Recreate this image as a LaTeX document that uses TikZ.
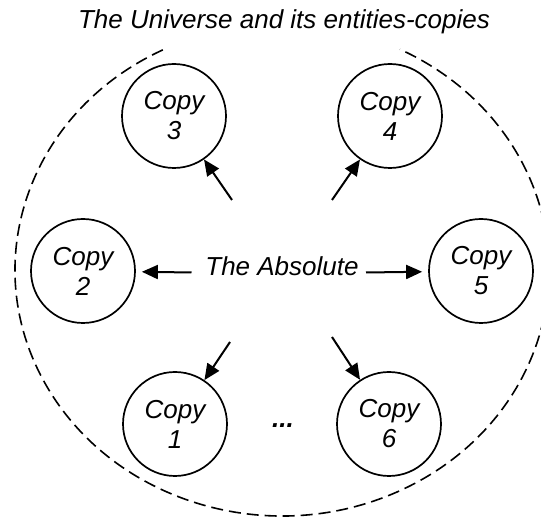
\documentclass[tikz,border=0pt]{standalone}
\usepackage{fontspec}
\setmainfont{Liberation Sans}
\usetikzlibrary{arrows.meta}
\tikzset{
  copybox/.style={circle, draw, line width=1.7pt, minimum size=104pt, inner sep=0pt,
    align=center, font=\itshape\fontsize{26}{30}\selectfont},
  lbl/.style={inner sep=0pt, font=\itshape\fontsize{26}{30}\selectfont},
  conn/.style={line width=2pt, -{Triangle[length=16pt,width=14pt]}},
  universe/.style={dash pattern=on 12pt off 6pt, line width=1.6pt}
}
\begin{document}
\begin{tikzpicture}[x=1pt,y=1pt]
\useasboundingbox (0,0) rectangle (541,518);
\begin{scope}
\clip (0,0) rectangle (541,518);
\draw[universe] (282,248) ++(116.5:267 and 246) arc[start angle=116.5, end angle=423.8, x radius=267, y radius=246];
\end{scope}
\node[lbl, anchor=base] (title) at (284,489) {The Universe and its entities-copies};
\node[lbl, anchor=base] (abs) at (282,242) {The Absolute};
\node[lbl, anchor=base, font=\bfseries\itshape\fontsize{26}{30}\selectfont] (dots) at (283,90) {...};
\node[copybox] (c3) at (174,402) {Copy\\3};
\node[copybox] (c4) at (390,402) {Copy\\4};
\node[copybox] (c2) at (83,247) {Copy\\2};
\node[copybox] (c5) at (481,247) {Copy\\5};
\node[copybox] (c1) at (175,94) {Copy\\1};
\node[copybox] (c6) at (389,94) {Copy\\6};
\coordinate (s3) at (232,318);
\coordinate (s4) at (332,318);
\coordinate (s2) at (191.5,245.5);
\coordinate (s5) at (366,245.5);
\coordinate (s1) at (230,176);
\coordinate (s6) at (332,181);
\draw[conn] (s3) -- (c3);
\draw[conn] (s4) -- (c4);
\draw[conn, shorten >=6pt] (s2) -- (c2);
\draw[conn, shorten >=6pt] (s5) -- (c5);
\draw[conn] (s1) -- (c1);
\draw[conn] (s6) -- (c6);
\end{tikzpicture}
\end{document}
